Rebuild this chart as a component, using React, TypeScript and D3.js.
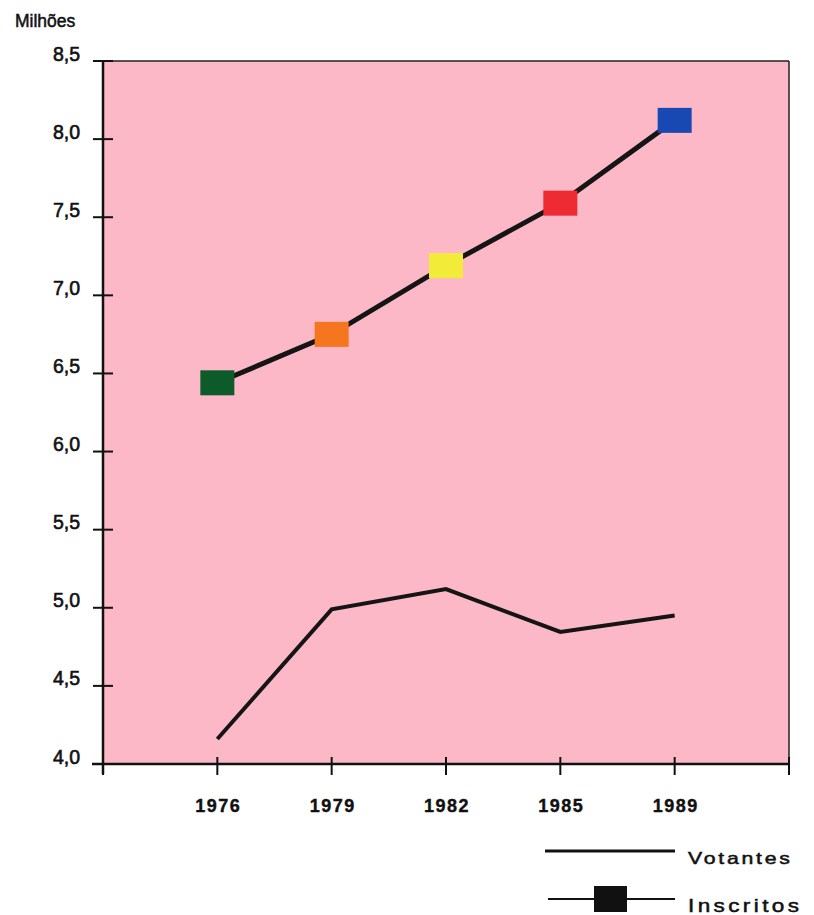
import React from "react";
import * as d3 from "d3";

const years = ["1976", "1979", "1982", "1985", "1989"];
const inscritos = [6.44, 6.75, 7.19, 7.59, 8.12];
const votantes = [4.16, 4.99, 5.12, 4.845, 4.95];
const markerColors = ["#0d5a2a", "#f5761e", "#f2ec38", "#ee2a32", "#1849b3"];
const yTicks = [4.0, 4.5, 5.0, 5.5, 6.0, 6.5, 7.0, 7.5, 8.0, 8.5];
const legendLabels = ["Votantes", "Inscritos"];

const W = 814;
const H = 915;
const left = 103;
const right = 789;
const top = 61;
const bottom = 764;
const font = "'Liberation Sans', Arial, Helvetica, sans-serif";

export default function App() {
  const x = d3.scalePoint<string>().domain(years).range([left, right]).padding(1);
  const y = d3.scaleLinear().domain([4, 8.5]).range([bottom, top]);
  const fmt = (v: number) => d3.format(".1f")(v).replace(".", ",");
  const line = d3
    .line<number>()
    .x((_, i) => x(years[i]) as number)
    .y((d) => y(d));
  const xTickPositions = [left, ...years.map((yr) => x(yr) as number), right];
  const sx = 1.25;

  return (
    <svg width={W} height={H} style={{ position: "absolute", left: 0, top: 0, background: "#fff" }}>
      <rect x={left} y={top} width={right - left} height={bottom - top} fill="#fcb8c6" />
      <line x1={left} y1={top} x2={right} y2={top} stroke="#222" strokeWidth={1.5} />
      <line x1={right} y1={top} x2={right} y2={bottom} stroke="#222" strokeWidth={1.5} />
      <line x1={left} y1={top - 1} x2={left} y2={bottom + 10} stroke="#111" strokeWidth={2.5} />
      <line x1={92} y1={bottom} x2={right + 1} y2={bottom} stroke="#111" strokeWidth={2.5} />
      {yTicks.map((t) => (
        <g key={t}>
          <line x1={93} x2={113} y1={y(t)} y2={y(t)} stroke="#111" strokeWidth={2} />
          <text
            x={80}
            y={y(t) - 0.5}
            textAnchor="end"
            fontFamily={font}
            fontSize={19.5}
            fill="#111"
            stroke="#111"
            strokeWidth={0.6}
          >
            {fmt(t)}
          </text>
        </g>
      ))}
      {xTickPositions.map((p, i) => (
        <line key={i} x1={p} x2={p} y1={bottom - 7} y2={bottom + 11} stroke="#111" strokeWidth={2} />
      ))}
      {years.map((yr) => (
        <text
          key={yr}
          x={(x(yr) as number) + 1}
          y={812}
          textAnchor="middle"
          fontFamily={font}
          fontWeight="bold"
          fontSize={18}
          letterSpacing={1.5}
          fill="#111"
          stroke="#111"
          strokeWidth={0.4}
        >
          {yr}
        </text>
      ))}
      <text x={15} y={27} fontFamily={font} fontSize={17.5} fill="#111" stroke="#111" strokeWidth={0.5}>
        Milhões
      </text>
      <path d={line(votantes) || ""} fill="none" stroke="#151515" strokeWidth={4} strokeLinejoin="miter" />
      <path d={line(inscritos) || ""} fill="none" stroke="#151515" strokeWidth={5} />
      {inscritos.map((v, i) => (
        <rect
          key={i}
          x={(x(years[i]) as number) - 17}
          y={y(v) - 12.5}
          width={34}
          height={25}
          fill={markerColors[i]}
        />
      ))}
      <line x1={545} x2={675} y1={851} y2={851} stroke="#111" strokeWidth={3} />
      <g transform={`translate(688,864) scale(${sx},1)`}>
        <text
          x={0}
          y={0}
          fontFamily={font}
          fontSize={17}
          fill="#111"
          stroke="#111"
          strokeWidth={0.5}
          textLength={102 / sx}
          lengthAdjust="spacing"
        >
          {legendLabels[0]}
        </text>
      </g>
      <line x1={548} x2={675} y1={899} y2={899} stroke="#111" strokeWidth={2} />
      <rect x={594} y={886} width={33} height={26} fill="#111" />
      <g transform={`translate(688,912) scale(${sx},1)`}>
        <text
          x={0}
          y={0}
          fontFamily={font}
          fontSize={18}
          fill="#111"
          stroke="#111"
          strokeWidth={0.5}
          textLength={111 / sx}
          lengthAdjust="spacing"
        >
          {legendLabels[1]}
        </text>
      </g>
    </svg>
  );
}
